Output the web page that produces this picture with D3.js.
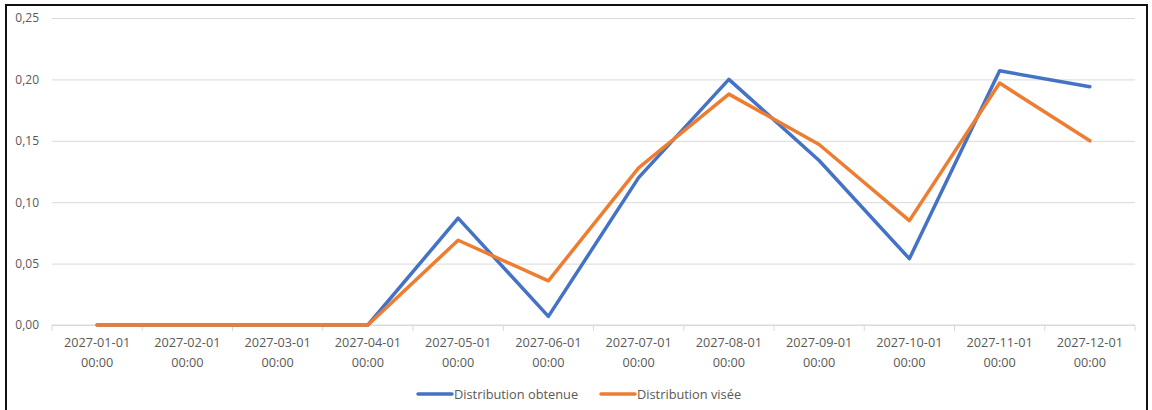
<!DOCTYPE html>
<html>
<head>
<meta charset="utf-8">
<script src="https://cdn.jsdelivr.net/npm/d3@7"></script>
<style>
  html, body { margin: 0; padding: 0; background: #fff; }
  svg { display: block; }
  text { font-family: "Open Sans", "Noto Sans", sans-serif; fill: #595959; }
</style>
</head>
<body>
<svg id="chart" width="1152" height="410"></svg>
<script>
// Monthly categories (date + time, shown on two lines)
const categories = [
  "2027-01-01 00:00", "2027-02-01 00:00", "2027-03-01 00:00", "2027-04-01 00:00",
  "2027-05-01 00:00", "2027-06-01 00:00", "2027-07-01 00:00", "2027-08-01 00:00",
  "2027-09-01 00:00", "2027-10-01 00:00", "2027-11-01 00:00", "2027-12-01 00:00"
];
const obtenue = [0, 0, 0, 0, 0.087, 0.007, 0.120, 0.200, 0.134, 0.054, 0.207, 0.194];
const visee   = [0, 0, 0, 0, 0.069, 0.036, 0.128, 0.188, 0.147, 0.085, 0.197, 0.150];
const yTicks = [0, 0.05, 0.10, 0.15, 0.20, 0.25];
const seriesNames = ["Distribution obtenue", "Distribution visée"];
const seriesColors = ["#4472c4", "#ed7d31"];

const svg = d3.select("#chart");

// Outer frame (open at the bottom edge of the view)
svg.append("rect")
  .attr("x", 6).attr("y", 5)
  .attr("width", 1141).attr("height", 430)
  .attr("fill", "none").attr("stroke", "#111").attr("stroke-width", 2);

const plot = { left: 52, right: 1135, top: 18, bottom: 325 };

const x = d3.scaleBand().domain(categories).range([plot.left, plot.right]).padding(0);
const y = d3.scaleLinear().domain([0, 0.25]).range([plot.bottom, plot.top]);

const fmt = v => d3.format(".2f")(v).replace(".", ",");

// Horizontal gridlines with labels
const yAxis = d3.axisLeft(y)
  .tickValues(yTicks)
  .tickSize(-(plot.right - plot.left))
  .tickPadding(13)
  .tickFormat(fmt);
const gy = svg.append("g").attr("transform", `translate(${plot.left},0)`).call(yAxis);
gy.select(".domain").remove();
gy.selectAll(".tick line").attr("stroke", "#d9d9d9").attr("stroke-width", 1);
gy.selectAll(".tick text").attr("font-size", 12).style("fill", "#595959")
  .attr("font-family", "'Open Sans', sans-serif");

// Category axis: baseline plus tick marks at band boundaries
const gx = svg.append("g").attr("transform", `translate(0,${plot.bottom})`);
gx.append("line")
  .attr("x1", plot.left).attr("x2", plot.right)
  .attr("stroke", "#d9d9d9").attr("stroke-width", 1);
const bounds = categories.map(c => x(c)).concat([plot.right]);
gx.selectAll("line.tk").data(bounds).enter().append("line")
  .attr("class", "tk")
  .attr("x1", d => d).attr("x2", d => d)
  .attr("y1", 0).attr("y2", 6)
  .attr("stroke", "#d9d9d9").attr("stroke-width", 1);
const lbl = gx.selectAll("text.cat").data(categories).enter().append("text")
  .attr("class", "cat")
  .attr("text-anchor", "middle")
  .attr("font-size", 12.7)
  .attr("x", d => x(d) + x.bandwidth() / 2);
lbl.append("tspan").attr("x", d => x(d) + x.bandwidth() / 2).attr("y", 22)
  .text(d => d.split(" ")[0]);
lbl.append("tspan").attr("x", d => x(d) + x.bandwidth() / 2).attr("y", 42)
  .text(d => d.split(" ")[1]);

// Series lines
const line = d3.line()
  .x((d, i) => x(categories[i]) + x.bandwidth() / 2)
  .y(d => y(d));
[obtenue, visee].forEach((vals, k) => {
  svg.append("path")
    .datum(vals)
    .attr("d", line)
    .attr("fill", "none")
    .attr("stroke", seriesColors[k])
    .attr("stroke-width", 3.5)
    .attr("stroke-linejoin", "round")
    .attr("stroke-linecap", "round");
});

// Legend
const legendX = [418, 601];
const legend = svg.append("g");
seriesNames.forEach((name, k) => {
  legend.append("line")
    .attr("x1", legendX[k]).attr("x2", legendX[k] + 34)
    .attr("y1", 394).attr("y2", 394)
    .attr("stroke", seriesColors[k]).attr("stroke-width", 3.5)
    .attr("stroke-linecap", "round");
  legend.append("text")
    .attr("x", legendX[k] + 36).attr("y", 398.5)
    .attr("font-size", 12.8)
    .text(name);
});
</script>
</body>
</html>
